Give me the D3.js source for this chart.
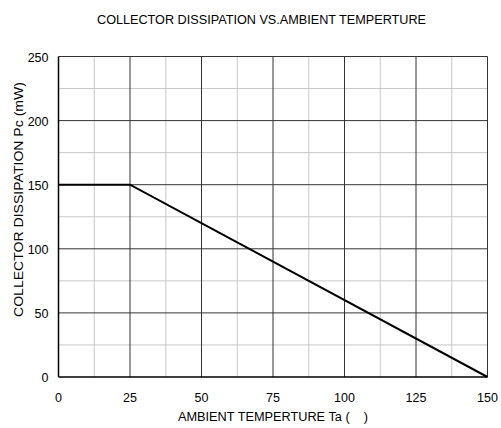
<!DOCTYPE html>
<html><head><meta charset="utf-8">
<script src="https://cdn.jsdelivr.net/npm/d3@7"></script>
<style>body{margin:0;background:#fff;} text{font-family:"Liberation Sans",Arial,sans-serif;fill:#000;}</style>
</head><body>
<svg id="c" width="501" height="428"></svg>
<script>
const temps = [0, 25, 150];
const power = [150, 150, 0];
const xTicks = [0, 25, 50, 75, 100, 125, 150];
const yTicks = [0, 50, 100, 150, 200, 250];
const xMinor = [12.5, 37.5, 62.5, 87.5, 112.5, 137.5];
const yMinor = [25, 75, 125, 175, 225];
const title = "COLLECTOR DISSIPATION VS.AMBIENT TEMPERTURE";
const xTitle = "AMBIENT TEMPERTURE Ta (    )";
const yTitle = "COLLECTOR DISSIPATION Pc (mW)";

const svg = d3.select("#c");
const L = 58.5, R = 487.5, T = 56.5, B = 377;
const x = d3.scaleLinear().domain([0,150]).range([L,R]);
const y = d3.scaleLinear().domain([0,250]).range([B,T]);

const g = svg.append("g");
g.selectAll(".xm").data(xMinor).join("line").attr("x1",d=>x(d)).attr("x2",d=>x(d)).attr("y1",T).attr("y2",B).attr("stroke","#c8c8c8").attr("stroke-width",1);
g.selectAll(".ym").data(yMinor).join("line").attr("y1",d=>y(d)).attr("y2",d=>y(d)).attr("x1",L).attr("x2",R).attr("stroke","#c8c8c8").attr("stroke-width",1);
g.selectAll(".xM").data(xTicks.slice(1)).join("line").attr("x1",d=>x(d)).attr("x2",d=>x(d)).attr("y1",T).attr("y2",B).attr("stroke","#333").attr("stroke-width",1);
g.selectAll(".yM").data(yTicks.slice(1)).join("line").attr("y1",d=>y(d)).attr("y2",d=>y(d)).attr("x1",L).attr("x2",R).attr("stroke","#333").attr("stroke-width",1);
g.append("line").attr("x1",L).attr("x2",L).attr("y1",T).attr("y2",B).attr("stroke","#000").attr("stroke-width",1.5);
g.append("line").attr("x1",L).attr("x2",R).attr("y1",B).attr("y2",B).attr("stroke","#000").attr("stroke-width",1.5);

const line = d3.line().x((d,i)=>x(temps[i])).y(d=>y(d));
svg.append("path").attr("d",line(power)).attr("fill","none").attr("stroke","#000").attr("stroke-width",2);

svg.selectAll(".xt").data(xTicks).join("text").attr("x",d=>x(d)).attr("y",401.5).attr("text-anchor","middle").attr("font-size",12.5).text(d=>d);
svg.selectAll(".yt").data(yTicks).join("text").attr("x",48.5).attr("y",d=>y(d)+5).attr("text-anchor","end").attr("font-size",12.5).text(d=>d);

svg.append("text").attr("x",97).attr("y",24).attr("font-size",12).attr("textLength",329).attr("lengthAdjust","spacingAndGlyphs").text(title);
svg.append("text").attr("x",178).attr("y",421).attr("font-size",12.5).attr("textLength",190).attr("lengthAdjust","spacingAndGlyphs").attr("xml:space","preserve").style("white-space","pre").text(xTitle);
svg.append("text").attr("transform","translate(23,317) rotate(-90)").attr("font-size",12.5).attr("textLength",235).attr("lengthAdjust","spacingAndGlyphs").text(yTitle);
</script>
</body></html>
